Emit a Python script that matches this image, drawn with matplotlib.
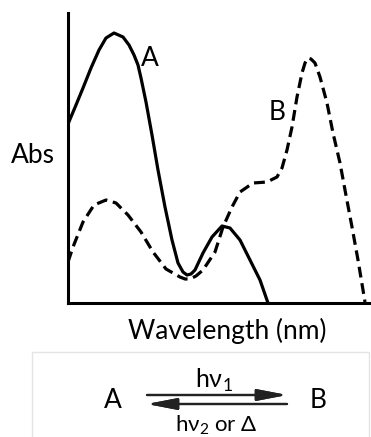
import matplotlib
matplotlib.use("Agg")
import matplotlib.pyplot as plt
from matplotlib.patches import Rectangle

plt.rcParams['font.family'] = ['Lato', 'DejaVu Sans']
plt.rcParams['mathtext.fontset'] = 'custom'
plt.rcParams['mathtext.rm'] = 'Lato'

# spectra (arbitrary wavelength / absorbance units)
wl_a = [0, 8, 15, 23, 31, 38, 46, 55, 61, 66, 70, 73, 78, 84, 90, 97, 104, 110, 115, 119,
        123, 127, 135, 144, 154, 162, 172, 182, 192, 200]
abs_a = [179, 198, 215, 235, 253, 265, 270, 266, 258, 248, 238, 225, 201, 168, 133, 96, 63, 40, 31, 28,
         29, 33, 50, 66, 77, 75, 63, 43, 23, 0]

wl_b = [0, 5, 15, 26, 38, 48, 60, 73, 85, 98, 112, 117, 122, 128, 135, 147, 155, 164, 172, 185, 199, 209,
        214, 219, 224, 229, 234, 237, 240, 243, 247, 252, 259, 265, 272, 277, 284, 290, 297]
abs_b = [41, 56, 81, 98, 103, 100, 88, 71, 51, 34, 26, 24, 24, 27, 33, 51, 76, 96, 111, 120, 121, 126,
         135, 153, 176, 206, 230, 240, 245, 244, 240, 226, 200, 170, 140, 113, 76, 43, 1]

W, H = 371, 437
fig = plt.figure(figsize=(W / 100, H / 100), dpi=100)
ax = fig.add_axes([68 / W, (H - 303) / H, 302 / W, 290 / H])

ax.plot(wl_a, abs_a, color='black', lw=2.3, solid_joinstyle='round')
ax.plot(wl_b, abs_b, color='black', lw=2.3, dashes=(3.4, 1.8), dash_joinstyle='round')

ax.set_xlim(0, 302)
ax.set_ylim(0, 290)
ax.set_xticks([])
ax.set_yticks([])
for s in ['top', 'right']:
    ax.spines[s].set_visible(False)
for s in ['left', 'bottom']:
    ax.spines[s].set_linewidth(2.2)

ax.text(82, 244, 'A', fontsize=19, ha='center', va='center')
ax.text(209, 190, 'B', fontsize=19, ha='center', va='center')

def fx(px):
    return px / W

def fy(py):
    return 1 - py / H

fig.text(fx(33), fy(155), 'Abs', fontsize=19, ha='center', va='center')
fig.text(fx(227), fy(331), 'Wavelength (nm)', fontsize=19, ha='center', va='center')

# reaction scheme box
fig.add_artist(Rectangle((fx(32), fy(440)), (369 - 32) / W, (440 - 352) / H,
                         transform=fig.transFigure, fill=False, edgecolor='#e4e4e4', lw=1))
fig.text(fx(113), fy(401), 'A', fontsize=19, ha='center', va='center')
fig.text(fx(318), fy(401), 'B', fontsize=19, ha='center', va='center')
fig.text(fx(214), fy(380), 'hν$_1$', fontsize=18, ha='center', va='center')
fig.text(fx(216), fy(425), 'hν$_2$ or Δ', fontsize=16, ha='center', va='center')

arrow = dict(arrowstyle='-|>,head_length=1.3,head_width=0.25', color='#222222', lw=1.6,
             shrinkA=0, shrinkB=0, mutation_scale=14)
fig.add_artist(plt.annotate('', xy=(fx(287), fy(395)), xytext=(fx(147), fy(395)),
                            xycoords='figure fraction', textcoords='figure fraction',
                            arrowprops=arrow))
fig.add_artist(plt.annotate('', xy=(fx(147), fy(404)), xytext=(fx(287), fy(404)),
                            xycoords='figure fraction', textcoords='figure fraction',
                            arrowprops=arrow))

fig.savefig('out.png', dpi=100)
